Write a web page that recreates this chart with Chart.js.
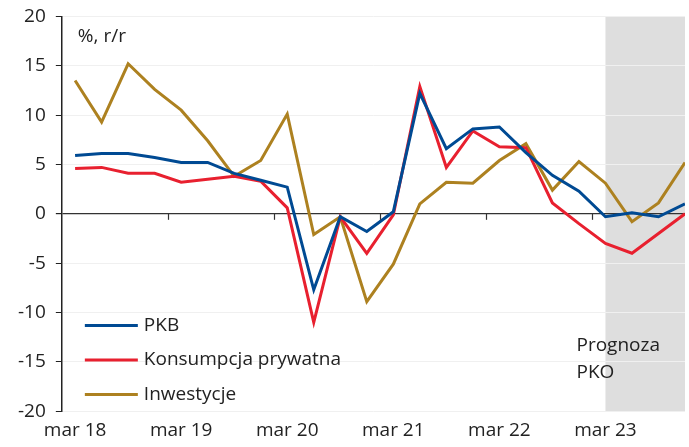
<!DOCTYPE html>
<html>
<head>
<meta charset="utf-8">
<script src="https://cdn.jsdelivr.net/npm/chart.js@4"></script>
<style>
  html, body { margin: 0; padding: 0; background: #fff; }
  #wrap { width: 689px; height: 447px; position: relative; overflow: hidden; }
  #inner { position: absolute; left: 0; top: -5px; width: 689px; height: 447px; }
</style>
</head>
<body>
<div id="wrap"><div id="inner"><canvas id="chart"></canvas></div></div>
<script>
// Data (quarterly, % r/r)
const quarters = [];
const years = ['18', '19', '20', '21', '22', '23'];
const months = ['mar', 'cze', 'wrz', 'gru'];
years.forEach(y => months.forEach(m => quarters.push(m + ' ' + y)));

const pkb  = [5.9, 6.1, 6.1, 5.7, 5.2, 5.2, 4.1, 3.4, 2.7, -7.7, -0.3, -1.8, 0.2, 12.2, 6.6, 8.6, 8.8, 6.2, 3.9, 2.3, -0.3, 0.1, -0.3, 1.0];
const kons = [4.6, 4.7, 4.1, 4.1, 3.2, 3.5, 3.8, 3.3, 0.6, -11.0, -0.3, -4.0, -0.1, 12.9, 4.7, 8.4, 6.8, 6.7, 1.1, -1.0, -3.0, -4.0, -2.0, 0.0];
const inw  = [13.5, 9.3, 15.2, 12.6, 10.5, 7.4, 3.8, 5.4, 10.1, -2.1, -0.3, -8.9, -5.1, 1.0, 3.2, 3.1, 5.4, 7.1, 2.4, 5.3, 3.1, -0.8, 1.1, 5.2];

const yTicks = [-20, -15, -10, -5, 0, 5, 10, 15, 20];
const forecastFrom = 'mar 23';

const FONT = '"Open Sans", sans-serif';
const TXT = '#222';

const toPoints = arr => arr.map((v, i) => ({ x: i, y: v }));

// gray forecast band + tick marks on zero line
const extras = {
    id: 'extras',
    beforeDraw(chart) {
        const { ctx, chartArea, scales } = chart;
        const x0 = scales.x.getPixelForValue(quarters.indexOf(forecastFrom));
        const x1 = scales.x.getPixelForValue(quarters.length - 1);
        ctx.save();
        ctx.fillStyle = '#dedede';
        ctx.fillRect(x0, chartArea.top, x1 - x0, chartArea.bottom - chartArea.top);
        ctx.restore();
    },
    afterDraw(chart) {
        const { ctx, chartArea, scales } = chart;
        const y0 = scales.y.getPixelForValue(0);
        ctx.save();
        ctx.strokeStyle = '#333';
        ctx.lineWidth = 1.2;
        for (let i = 4; i < quarters.length; i += 4) {
            const x = Math.round(scales.x.getPixelForValue(i - 0.5)) + 0.5;
            ctx.beginPath();
            ctx.moveTo(x, y0);
            ctx.lineTo(x, y0 + 6);
            ctx.stroke();
        }
        // unit label
        ctx.fillStyle = TXT;
        ctx.font = '19px ' + FONT;
        ctx.textBaseline = 'middle';
        ctx.textAlign = 'left';
        ctx.fillText('%, r/r', chartArea.left + 16, chartArea.top + 20);
        // forecast label
        const xf = scales.x.getPixelForValue(quarters.indexOf(forecastFrom)) - 29;
        ctx.fillText('Prognoza', xf, chartArea.top + 329);
        ctx.fillText('PKO', xf, chartArea.top + 356);
        // legend
        chart.data.datasets.forEach((ds, i) => {
            const ly = chartArea.top + 309 + i * 34.5;
            ctx.strokeStyle = ds.borderColor;
            ctx.lineWidth = 3;
            ctx.beginPath();
            ctx.moveTo(chartArea.left + 23, ly);
            ctx.lineTo(chartArea.left + 76, ly);
            ctx.stroke();
            ctx.fillStyle = TXT;
            ctx.fillText(ds.label, chartArea.left + 82, ly);
        });
        ctx.restore();
    }
};

new Chart(document.getElementById('chart'), {
    type: 'line',
    data: {
        datasets: [
            { label: 'PKB', data: toPoints(pkb), borderColor: '#004a93' },
            { label: 'Konsumpcja prywatna', data: toPoints(kons), borderColor: '#e8202f' },
            { label: 'Inwestycje', data: toPoints(inw), borderColor: '#ad8120' }
        ]
    },
    options: {
        responsive: true,
        maintainAspectRatio: false,
        animation: false,
        layout: { padding: { top: -2, right: 4, bottom: 0, left: 8 } },
        elements: {
            line: { borderWidth: 3, tension: 0 },
            point: { radius: 0 }
        },
        plugins: { legend: { display: false }, tooltip: { enabled: false } },
        scales: {
            x: {
                type: 'linear',
                min: -0.5,
                max: quarters.length - 1,
                afterBuildTicks: s => {
                    s.ticks = quarters.map((q, i) => i).filter(i => i % 4 === 0).map(v => ({ value: v }));
                },
                grid: { display: false },
                border: { display: false },
                ticks: {
                    color: TXT,
                    font: { family: FONT, size: 19 },
                    padding: 0,
                    maxRotation: 0,
                    autoSkip: false,
                    callback: v => quarters[v]
                }
            },
            y: {
                min: -20,
                max: 20,
                afterBuildTicks: s => { s.ticks = yTicks.map(v => ({ value: v })); },
                grid: {
                    color: c => c.tick && c.tick.value === 0 ? '#333' : '#f0f0f0',
                    lineWidth: c => c.tick && c.tick.value === 0 ? 1.2 : 1,
                    tickColor: '#222',
                    tickLength: 6
                },
                border: { color: '#222', width: 1.5 },
                ticks: {
                    color: TXT,
                    font: { family: FONT, size: 19 },
                    padding: 10
                }
            }
        }
    },
    plugins: [extras]
});
</script>
</body>
</html>
